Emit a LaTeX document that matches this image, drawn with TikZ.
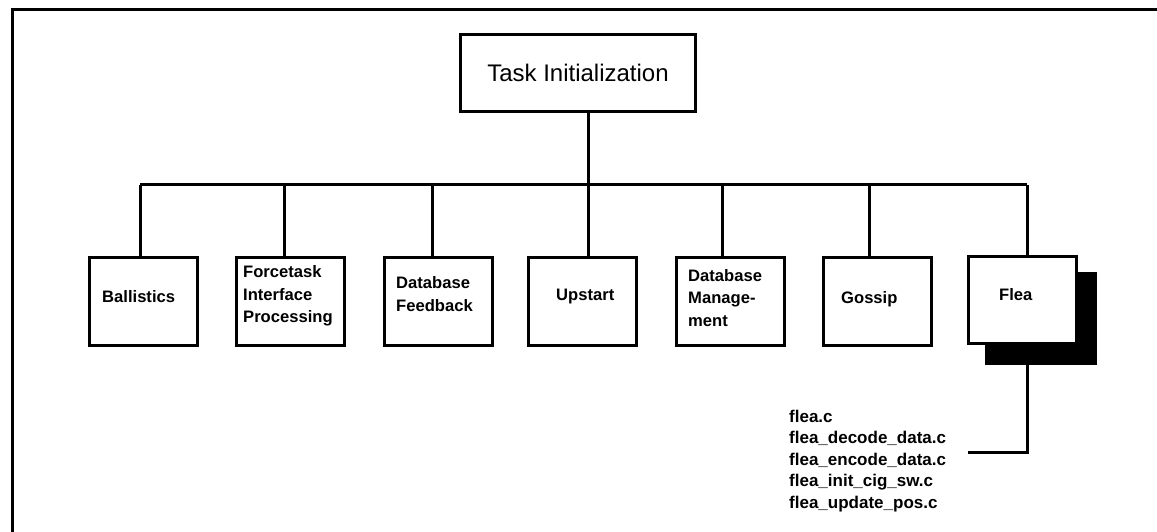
\documentclass[tikz,border=0pt]{standalone}
\usepackage{fontspec}
\setmainfont{Liberation Sans}
\usetikzlibrary{calc}

\tikzset{
  modbox/.style={draw=black, line width=3pt, minimum width=108pt, minimum height=88pt,
                 inner sep=0pt, fill=white},
  topbox/.style={draw=black, line width=3pt, minimum width=235pt, minimum height=77pt,
                 inner sep=0pt, font=\fontsize{24}{28}\selectfont},
  boxlabel/.style={inner sep=0pt, align=left, anchor=west,
                   font=\fontsize{16.6}{22.5}\selectfont\bfseries},
  filelist/.style={inner sep=0pt, align=left, anchor=west,
                   font=\fontsize{17}{21.5}\selectfont\bfseries},
  link/.style={draw=black, line width=3pt},
  frameline/.style={draw=black, line width=3pt, line cap=rect},
}

\begin{document}
\begin{tikzpicture}[x=1pt, y=-1pt]
  \useasboundingbox (0,0) rectangle (1157,532);

  % page frame (top and left edges)
  \coordinate (frameBL) at (12,534);
  \coordinate (frameTL) at (12,10);
  \coordinate (frameTR) at (1160,10);
  \draw[frameline] (frameBL) -- (frameTL) -- (frameTR);

  % root module
  \node[topbox] (task) at (578,73) {Task Initialization};

  % shadow behind the Flea box
  \node[fill=black, minimum width=112pt, minimum height=93pt, inner sep=0pt]
    (fleashadow) at (1041,318.5) {};

  % second-level modules
  \node[modbox] (b1) at (143,301.5) {};
  \node[modbox] (b2) at (290,301.5) {};
  \node[modbox] (b3) at (438,301.5) {};
  \node[modbox] (b4) at (582.5,301.5) {};
  \node[modbox] (b5) at (730.5,301.5) {};
  \node[modbox] (b6) at (877.5,301.5) {};
  \node[modbox, minimum height=87pt] (flea) at (1022.5,299.5) {};

  % module names
  \node[boxlabel] (t1) at (102,297) {Ballistics};
  \node[boxlabel] (t2) at (243,296) {Forcetask\\Interface\\Processing};
  \node[boxlabel] (t3) at (396,294) {Database\\Feedback};
  \node[boxlabel] (t4) at (556,297) {Upstart};
  \node[boxlabel] (t5) at (688,298) {Database\\Manage-\\ment};
  \node[boxlabel] (t6) at (841,299) {Gossip};
  \node[boxlabel] (t7) at (999,295) {Flea};

  % tree connectors (drops sit a little off the box centres)
  \coordinate (bus) at (582.5,185);
  \draw[link] (task.south -| {$(b4.north)+(5.5,0)$}) -- (bus -| {$(b4.north)+(5.5,0)$});
  \draw[link] (bus -| {$(b1.north)+(-3,0)$}) -- (bus -| {$(flea.north)+(4.5,0)$});
  \foreach \b/\dx in {b1/-3,b2/-6,b3/-6,b4/5.5,b5/-8.5,b6/-8.5,flea/4.5}
    \draw[link] (bus -| {$(\b.north)+(\dx,0)$}) -- ($(\b.north)+(\dx,0)$);

  % source files of the Flea module
  \node[filelist] (files) at (789,461)
    {flea.c\\flea\_decode\_data.c\\flea\_encode\_data.c\\flea\_init\_cig\_sw.c\\flea\_update\_pos.c};
  \coordinate (filesend) at (968,452);
  \draw[link] ($(fleashadow.south -| flea.north)+(4.5,0)$) |- (filesend);
\end{tikzpicture}
\end{document}
